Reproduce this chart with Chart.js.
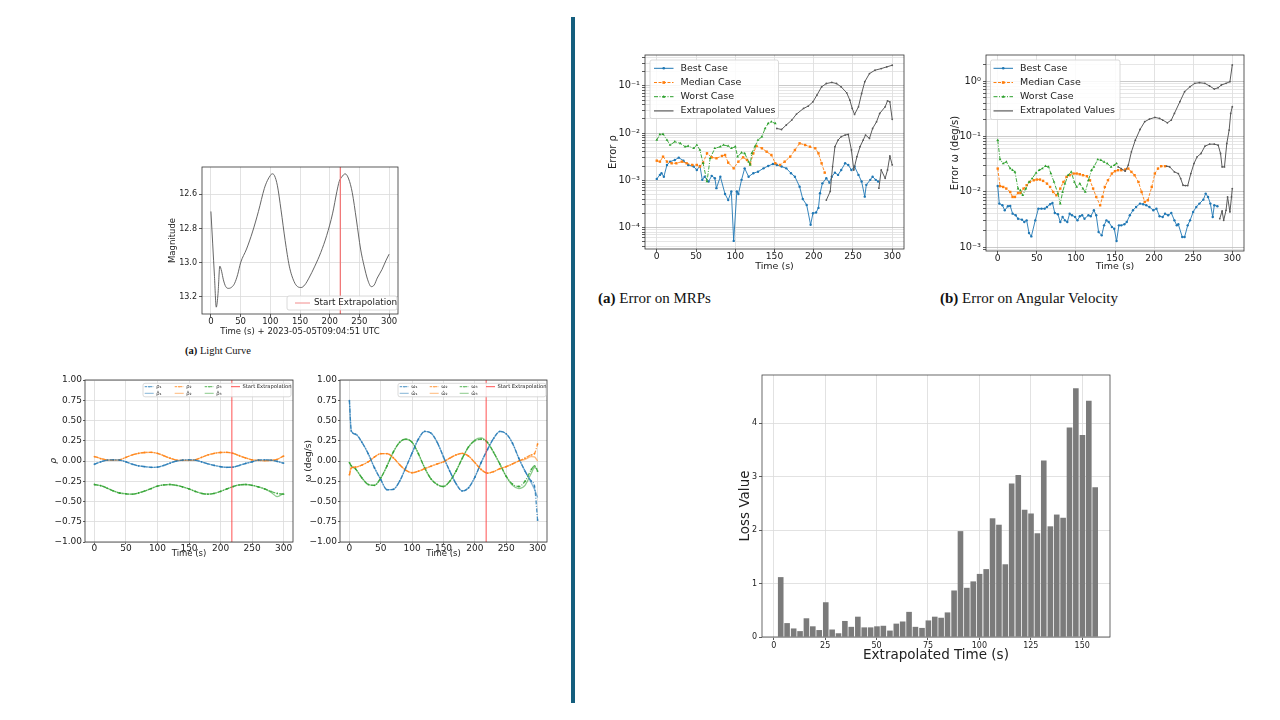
<!DOCTYPE html>
<html lang="en">
<head>
<meta charset="utf-8">
<title>Attitude estimation results</title>
<script src="https://cdn.jsdelivr.net/npm/chart.js@4.4.1/dist/chart.umd.min.js"></script>
<style>
  body { margin:0; width:1280px; height:720px; background:#fff; position:relative; overflow:hidden; font-family:'DejaVu Sans', sans-serif; }
  canvas { position:absolute; }
  .cap { position:absolute; font-family:'Liberation Serif', serif; color:#111; white-space:nowrap; }
  #divider { position:absolute; left:571px; top:17px; width:4px; height:686px; background:#155e7e; }
</style>
</head>
<body>
<div id="divider"></div>
<div class="cap" style="left:185px;top:345px;font-size:10.5px;line-height:12px"><b>(a)</b> Light Curve</div>
<div class="cap" style="left:598px;top:289px;font-size:15px;line-height:18px"><b>(a)</b> Error on MRPs</div>
<div class="cap" style="left:940px;top:289px;font-size:15px;line-height:18px"><b>(b)</b> Error on Angular Velocity</div>

<script>
// ---- data ----
const startExtrap = 218;

// light curve
const lcTime = [0,3,6,9,12,15,18,21,25,30,36,40,45,50,60,70,80,90,95,100,103,107,112,118,125,132,140,146,152,158,165,175,185,195,205,212,216,220,226,232,238,245,252,258,264,270,275,280,288,295,300];
const lcMag = [12.70,12.89,13.08,13.26,13.18,13.02,13.05,13.10,13.14,13.15,13.14,13.12,13.07,13.00,12.92,12.82,12.70,12.565,12.52,12.49,12.48,12.49,12.55,12.69,12.87,13.02,13.11,13.14,13.145,13.13,13.09,13.02,12.94,12.84,12.71,12.585,12.525,12.50,12.48,12.51,12.59,12.75,12.92,13.02,13.10,13.14,13.13,13.09,13.04,12.985,12.95];

// MRPs (truth and estimate)
const mrpTime = [0,10,20,30,40,50,60,70,80,90,100,110,120,130,140,150,160,170,180,190,200,210,220,230,240,250,260,270,280,290,300];
const rho1 = [-0.04,-0.01,0.01,0.015,0.01,-0.01,-0.04,-0.06,-0.07,-0.078,-0.075,-0.055,-0.025,0,0.012,0.015,0.01,-0.01,-0.035,-0.055,-0.07,-0.078,-0.075,-0.055,-0.03,-0.01,0.012,0.015,0.01,-0.005,-0.025];
const rho2 = [0.055,0.03,0.012,0.01,0.015,0.045,0.075,0.095,0.105,0.107,0.095,0.065,0.035,0.012,0.008,0.008,0.015,0.045,0.075,0.095,0.105,0.107,0.095,0.065,0.037,0.015,0.008,0.004,0.008,0.02,0.06];
const rho3 = [-0.29,-0.305,-0.335,-0.37,-0.395,-0.405,-0.41,-0.395,-0.37,-0.34,-0.31,-0.295,-0.29,-0.3,-0.32,-0.345,-0.375,-0.4,-0.41,-0.4,-0.375,-0.345,-0.315,-0.295,-0.29,-0.3,-0.32,-0.345,-0.375,-0.4,-0.41];
const rho1Hat = [-0.04,-0.01,0.01,0.015,0.01,-0.01,-0.04,-0.06,-0.07,-0.078,-0.075,-0.055,-0.025,0,0.012,0.015,0.01,-0.01,-0.035,-0.055,-0.07,-0.078,-0.075,-0.055,-0.03,-0.01,0.012,0.015,0.01,-0.005,-0.03];
const rho2Hat = [0.055,0.03,0.012,0.01,0.015,0.045,0.075,0.095,0.105,0.107,0.095,0.065,0.035,0.012,0.008,0.008,0.015,0.045,0.075,0.095,0.105,0.107,0.095,0.065,0.037,0.015,0.008,0.004,0.008,0.02,0.065];
const rho3Hat = [-0.29,-0.305,-0.335,-0.37,-0.395,-0.405,-0.41,-0.395,-0.37,-0.34,-0.31,-0.295,-0.29,-0.3,-0.32,-0.345,-0.375,-0.4,-0.41,-0.4,-0.375,-0.345,-0.315,-0.295,-0.29,-0.3,-0.32,-0.345,-0.385,-0.44,-0.40];

// angular velocity (truth and estimate), deg/s
const rateTime = [0,3,10,20,30,40,50,60,70,80,90,100,110,120,130,140,150,160,170,180,190,200,210,220,230,240,250,260,270,280,290,295,300];
const w1 = [0.745,0.37,0.33,0.23,0.09,-0.085,-0.23,-0.355,-0.35,-0.25,-0.08,0.1,0.27,0.365,0.345,0.23,0.05,-0.125,-0.28,-0.37,-0.33,-0.2,-0.02,0.14,0.28,0.365,0.335,0.22,0.035,-0.125,-0.25,-0.31,-0.73];
const w2 = [-0.17,-0.085,-0.075,-0.05,-0.01,0.05,0.09,0.09,0.04,-0.045,-0.115,-0.145,-0.125,-0.095,-0.065,-0.035,-0.01,0.035,0.075,0.095,0.06,-0.02,-0.105,-0.15,-0.13,-0.095,-0.07,-0.035,0,0.035,0.075,0.09,0.21];
const w3 = [-0.02,-0.06,-0.1,-0.21,-0.29,-0.30,-0.21,-0.06,0.11,0.23,0.27,0.23,0.09,-0.085,-0.22,-0.29,-0.315,-0.25,-0.125,0.035,0.175,0.25,0.27,0.23,0.105,-0.04,-0.19,-0.285,-0.315,-0.25,-0.105,-0.06,-0.125];
const w1Hat = [0.745,0.37,0.33,0.23,0.09,-0.085,-0.23,-0.355,-0.35,-0.25,-0.08,0.1,0.27,0.365,0.345,0.23,0.05,-0.125,-0.28,-0.37,-0.33,-0.2,-0.02,0.14,0.28,0.365,0.335,0.22,0.035,-0.125,-0.27,-0.35,-0.45];
const w2Hat = [-0.17,-0.085,-0.075,-0.05,-0.01,0.05,0.09,0.09,0.04,-0.045,-0.115,-0.145,-0.125,-0.095,-0.065,-0.035,-0.01,0.035,0.075,0.095,0.06,-0.02,-0.105,-0.15,-0.13,-0.095,-0.07,-0.035,0,0.02,0.055,0.05,0.0];
const w3Hat = [-0.02,-0.06,-0.1,-0.21,-0.29,-0.30,-0.21,-0.06,0.11,0.23,0.27,0.23,0.09,-0.085,-0.22,-0.29,-0.315,-0.25,-0.125,0.035,0.175,0.26,0.285,0.23,0.105,-0.04,-0.19,-0.3,-0.34,-0.3,-0.15,-0.08,-0.1];

// error on MRPs
const errMrpBestT = [0,4,6,9,13,17,23,28,34,40,47,51,55,58,61,66,70,74,76,81,87,91,95,98,102,104,108,112,117,123,129,136,142,148,153,159,165,171,176,182,186,191,196,199,203,206,208,211,216,220,223,227,231,235,240,244,248,252,257,261,265,267,272,275,279,282];
const errMrpBest = [1.07e-3,1.30e-3,1.41e-3,1.19e-3,2.11e-3,2.48e-3,2.69e-3,3.01e-3,2.60e-3,2.11e-3,1.95e-3,1.65e-3,2.01e-3,1.02e-3,1.19e-3,9.4e-4,1.24e-3,1.10e-3,6.8e-4,1.19e-3,5.1e-4,3.8e-4,5.8e-4,5.2e-5,5.8e-4,5.1e-4,1.02e-3,1.79e-3,1.19e-3,1.41e-3,1.52e-3,1.79e-3,2.01e-3,2.21e-3,2.11e-3,1.95e-3,1.79e-3,1.41e-3,1.19e-3,7.3e-4,4.0e-4,3.0e-4,1.14e-4,2.0e-4,2.07e-4,2.6e-4,5.3e-4,8.6e-4,1.10e-3,8.9e-4,1.19e-3,1.45e-3,1.30e-3,1.65e-3,2.29e-3,2.11e-3,1.65e-3,1.95e-3,1.30e-3,9.4e-4,4.5e-4,8.0e-4,1.02e-3,1.19e-3,1.02e-3,9.4e-4];
const errMrpMedT = [0,4,8,13,19,25,32,38,45,51,55,59,64,70,76,83,87,91,98,104,110,115,119,123,127,134,140,146,151,157,163,170,176,182,189,195,202,206,210,214];
const errMrpMed = [2.60e-3,2.48e-3,3.16e-3,2.48e-3,2.29e-3,2.29e-3,2.48e-3,2.29e-3,2.11e-3,2.11e-3,1.95e-3,2.36e-3,3.72e-3,3.06e-3,2.92e-3,3.27e-3,3.43e-3,2.36e-3,1.79e-3,2.48e-3,3.06e-3,2.69e-3,2.21e-3,3.72e-3,5.31e-3,4.75e-3,4.03e-3,3.43e-3,2.29e-3,2.11e-3,2.48e-3,3.16e-3,4.37e-3,6.05e-3,5.58e-3,5.14e-3,4.75e-3,3.72e-3,2.29e-3,1.45e-3];
const errMrpWorstT = [0,4,8,13,17,23,30,36,40,47,51,55,59,64,68,74,81,85,91,95,100,103,108,112,117,119,121,125,129,134,138,142,146,151];
const errMrpWorst = [7.11e-3,9.37e-3,9.5e-3,7.11e-3,5.58e-3,6.56e-3,6.05e-3,5.14e-3,5.31e-3,4.75e-3,5.58e-3,4.37e-3,2.29e-3,9.4e-4,2.92e-3,4.75e-3,5.14e-3,5.58e-3,5.31e-3,4.75e-3,5.14e-3,3.16e-3,3.84e-3,3.72e-3,2.48e-3,2.11e-3,3.72e-3,5.14e-3,7.11e-3,8.37e-3,1.25e-2,1.60e-2,1.73e-2,1.60e-2];
const mrpExtA_T = [153,159,165,172,178,187,193,199,204,210,216,223,229,235,242,246,249,252,257,261,265,271,278,286,293,300];
const mrpExtA = [1.25e-2,1.19e-2,1.48e-2,1.88e-2,2.52e-2,3.32e-2,3.72e-2,4.59e-2,6.35e-2,9.5e-2,0.112,0.118,0.112,9.5e-2,7.11e-2,4.98e-2,3.32e-2,2.48e-2,3.6e-2,6.89e-2,0.122,0.182,0.214,0.232,0.252,0.273];
const mrpExtB_T = [216,221,224,227,231,235,240,244,248,251,255,259,263,266,271,275,280,284,291,294,297,300];
const mrpExtB = [3.8e-4,5.8e-4,1.95e-3,5.14e-3,7.11e-3,8.37e-3,9.08e-3,9.37e-3,4.37e-3,1.65e-3,3.16e-3,5.14e-3,7.11e-3,9.08e-3,7.71e-3,1.25e-2,1.73e-2,2.6e-2,3.6e-2,4.82e-2,4.59e-2,1.95e-2];
const mrpExtC_T = [283,286,291,294,297,300];
const mrpExtC = [6.8e-4,1.65e-3,1.10e-3,1.65e-3,3.27e-3,2.11e-3];

// error on angular velocity, deg/s
const errRateBestT = [0,2,6,9,13,16,19,23,26,31,34,37,40,43,48,52,56,60,63,67,70,73,77,80,83,86,89,92,95,99,102,105,108,111,116,119,123,126,129,133,136,139,142,146,149,152,155,158,162,165,169,173,177,182,186,190,194,199,203,207,211,214,218,222,226,229,231,236,239,243,246,250,254,258,263,266,269,272,275,277,281];
const errRateBest = [1.27e-2,6.1e-3,5.69e-3,4.62e-3,5.46e-3,5.53e-3,4.02e-3,3.75e-3,3.26e-3,3.13e-3,2.84e-3,3.04e-3,1.8e-3,1.56e-3,3.04e-3,4.95e-3,4.95e-3,4.95e-3,5.31e-3,5.93e-3,6.27e-3,4.13e-3,3.91e-3,2.84e-3,3.5e-3,3.04e-3,2.84e-3,4.02e-3,3.75e-3,3.5e-3,3.04e-3,3.6e-3,3.75e-3,3.26e-3,3.75e-3,3.6e-3,4.62e-3,3.75e-3,1.87e-3,1.63e-3,2.47e-3,3.04e-3,2.84e-3,2.31e-3,2.15e-3,1.29e-3,2.47e-3,2.47e-3,2.58e-3,2.84e-3,3.75e-3,4.62e-3,5.31e-3,6.1e-3,5.93e-3,5.69e-3,5.31e-3,4.62e-3,4.95e-3,3.6e-3,3.5e-3,4.02e-3,3.75e-3,4.13e-3,3.04e-3,2.47e-3,2.58e-3,1.52e-3,1.52e-3,2.47e-3,3.04e-3,4.31e-3,5.31e-3,6.1e-3,7.2e-3,9.25e-3,8.05e-3,6.1e-3,3.5e-3,5.69e-3,5.46e-3];
const errRateMedT = [0,3,7,11,16,19,22,26,29,33,37,41,46,50,54,58,63,67,71,75,80,84,88,92,97,101,105,109,114,118,122,126,131,134,137,141,146,150,154,158,163,167,171,175,180,184,188,192,197,201,205,209,214];
const errRateMed = [2.62e-2,1.26e-2,1.22e-2,1.14e-2,9.9e-3,8.05e-3,8.05e-3,9.5e-3,9.5e-3,1.14e-2,1.31e-2,1.5e-2,1.61e-2,1.66e-2,1.66e-2,1.57e-2,1.4e-2,1.22e-2,9.9e-3,8.63e-3,1.14e-2,1.5e-2,1.85e-2,1.99e-2,2.13e-2,2.13e-2,2.07e-2,1.99e-2,1.91e-2,1.61e-2,1.14e-2,8.05e-3,5.69e-3,8.05e-3,1.22e-2,1.61e-2,2.13e-2,2.35e-2,2.45e-2,2.45e-2,2.52e-2,2.62e-2,2.28e-2,1.99e-2,1.5e-2,9.9e-3,6.54e-3,7.01e-3,1.22e-2,2.13e-2,2.62e-2,2.89e-2,2.89e-2];
const errRateWorstT = [0,3,7,11,16,19,22,26,29,32,36,40,44,49,53,57,61,65,68,72,77,80,83,86,90,94,98,101,105,109,112,116,120,123,128,132,136,140,145,149,152];
const errRateWorst = [8.55e-2,3.82e-2,3.23e-2,3.46e-2,2.62e-2,2.45e-2,2.28e-2,1.14e-2,1.06e-2,8.63e-3,1.14e-2,1.5e-2,1.73e-2,2.19e-2,2.45e-2,2.62e-2,2.89e-2,2.81e-2,2.13e-2,1.5e-2,9.25e-3,6.1e-3,9.9e-3,1.4e-2,1.99e-2,2.28e-2,1.5e-2,1.22e-2,1.4e-2,1.14e-2,9.9e-3,1.61e-2,2.45e-2,2.81e-2,3.82e-2,3.71e-2,3.46e-2,3.23e-2,2.81e-2,3.01e-2,3.23e-2];
const rateExtA_T = [154,158,163,167,171,176,182,188,194,201,207,211,217,222,226,233,239,246,252,258,265,271,277,282,286,292,297,300];
const rateExtA = [2.81e-2,2.62e-2,2.35e-2,3.01e-2,5.26e-2,8.55e-2,0.133,0.184,0.205,0.22,0.211,0.197,0.176,0.197,0.26,0.423,0.641,0.79,0.907,0.933,0.907,0.812,0.716,0.757,0.847,0.907,0.973,1.95];
const rateExtB_T = [216,220,226,231,234,237,240,243,247,251,255,260,265,271,277,282,285,287,290,293,296,298,300];
const rateExtB = [2.89e-2,2.81e-2,2.28e-2,2.13e-2,1.73e-2,1.31e-2,1.29e-2,1.29e-2,2.13e-2,3.23e-2,4.27e-2,4.9e-2,6.66e-2,7.23e-2,7.23e-2,6.94e-2,4.9e-2,2.81e-2,2.81e-2,7.44e-2,0.13,0.26,0.343];
const rateExtC_T = [284,287,289,292,294,297,299,300];
const rateExtC = [3.26e-3,4.49e-3,3.04e-3,4.62e-3,8.05e-3,4.31e-3,8.05e-3,1.14e-2];

// loss per extrapolated time step
const lossTime = [3.4,6.5,9.7,12.8,15.9,19.0,22.1,25.3,28.4,31.5,34.6,37.7,40.9,44.0,47.1,50.2,53.3,56.5,59.6,62.7,65.8,68.9,72.1,75.2,78.3,81.4,84.5,87.7,90.8,93.9,97.0,100.1,103.3,106.4,109.5,112.6,115.7,118.9,122.0,125.1,128.2,131.3,134.5,137.6,140.7,143.8,146.9,150.1,153.2,156.3];
const lossValue = [1.12,0.26,0.16,0.11,0.35,0.2,0.13,0.65,0.14,0.07,0.3,0.19,0.38,0.18,0.18,0.2,0.21,0.12,0.25,0.29,0.47,0.19,0.17,0.31,0.38,0.36,0.46,0.87,1.98,0.92,1.04,1.18,1.27,2.22,2.1,1.36,2.87,3.03,2.38,2.31,1.94,3.3,2.07,2.29,2.23,3.92,4.65,3.78,4.42,2.8];

// tick labels
const timeTicks = [0,50,100,150,200,250,300];
const magTicks = [12.6,12.8,13.0,13.2];
const unitTicks = [-1,-0.75,-0.5,-0.25,0,0.25,0.5,0.75,1];
const lossTimeTicks = [0,25,50,75,100,125,150];
const lossTicks = [0,1,2,3,4];

// ---- helpers ----
Chart.defaults.font.family = "'DejaVu Sans', sans-serif";
Chart.defaults.color = '#222';

const zip = (t, v) => t.map((x, i) => ({x: x, y: v[i]}));
const SUP = {'-': '⁻', '0': '⁰', '1': '¹', '2': '²', '3': '³', '4': '⁴', '5': '⁵', '6': '⁶', '7': '⁷', '8': '⁸', '9': '⁹'};
const isPow10 = v => Math.abs(Math.log10(v) - Math.round(Math.log10(v))) < 1e-9;
const powLabel = v => isPow10(v) ? '10' + String(Math.round(Math.log10(v))).split('').map(c => SUP[c]).join('') : '';
const signed2 = v => (v < 0 ? '−' : '') + Math.abs(v).toFixed(2);

function logTicks(lo, hi) {
  const out = [];
  for (let e = Math.floor(Math.log10(lo)); e <= Math.ceil(Math.log10(hi)); e++) {
    for (let m = 1; m < 10; m++) {
      const v = parseFloat((m * Math.pow(10, e)).toPrecision(6));
      if (v >= lo && v <= hi) out.push(v);
    }
  }
  return out;
}

// area = [left, top, right, bottom] of the plot box on the page
function place(area, yw, xh, pt, pr) {
  const c = document.createElement('canvas');
  c.width = Math.round(area[2] - area[0] + yw + pr);
  c.height = Math.round(area[3] - area[1] + xh + pt);
  c.style.left = (area[0] - yw) + 'px';
  c.style.top = (area[1] - pt) + 'px';
  document.body.appendChild(c);
  return c;
}

function axis(o) {
  const lh = o.lh || 1.2;
  const gridColor = o.log ? (c => (c.tick && isPow10(c.tick.value)) ? '#bdbdbd' : '#e0e0e0') : '#dadada';
  return {
    type: o.log ? 'logarithmic' : 'linear',
    min: o.min, max: o.max, reverse: !!o.reverse, bounds: 'data', offset: false,
    afterBuildTicks: s => { s.ticks = o.ticks.map(v => ({value: v})); },
    afterFit: s => { if (o.w) s.width = o.w; if (o.h) s.height = o.h; },
    grid: {color: gridColor, lineWidth: 0.8, offset: false, drawTicks: true, tickLength: o.tl ?? 3, tickColor: '#333', tickWidth: 0.8},
    border: {display: false},
    ticks: {font: {size: o.fs, lineHeight: o.tlh || lh}, color: '#222', padding: o.pad ?? 1, autoSkip: false, maxRotation: 0,
            callback: o.fmt || (v => String(v))},
    title: {display: true, text: o.title, color: '#222', padding: 0,
            font: {size: o.tfs, lineHeight: lh, style: o.italic ? 'italic' : 'normal'}}
  };
}

function opts(pt, pr, x, y) {
  return {
    responsive: false, animation: false, events: [],
    layout: {padding: {top: pt, right: pr, left: 0, bottom: 0}},
    plugins: {legend: {display: false}, tooltip: {enabled: false}},
    scales: {x: x, y: y}
  };
}

function drawMarker(ctx, style, x, y, r, color) {
  ctx.fillStyle = color;
  ctx.beginPath();
  if (style === 'rect') ctx.rect(x - r * 0.75, y - r * 0.75, r * 1.5, r * 1.5);
  else if (style === 'triangle') { ctx.moveTo(x, y - r); ctx.lineTo(x + r * 0.9, y + r * 0.6); ctx.lineTo(x - r * 0.9, y + r * 0.6); ctx.closePath(); }
  else ctx.arc(x, y, r, 0, Math.PI * 2);
  ctx.fill();
}

// axes box + matplotlib style legend drawn inside the plot area
function frame(L, edge) {
  return {
    id: 'frame',
    afterDatasetsDraw(chart) {
      const ctx = chart.ctx, a = chart.chartArea;
      ctx.save();
      ctx.strokeStyle = edge || '#333';
      ctx.lineWidth = 0.8;
      ctx.strokeRect(a.left, a.top, a.right - a.left, a.bottom - a.top);
      if (L) {
        const bx = a.left + L.x, by = a.top + L.y;
        ctx.fillStyle = 'rgba(255,255,255,0.85)';
        ctx.strokeStyle = '#d0d0d0';
        ctx.beginPath();
        if (ctx.roundRect) ctx.roundRect(bx, by, L.w, L.h, 2); else ctx.rect(bx, by, L.w, L.h);
        ctx.fill(); ctx.stroke();
        ctx.font = L.font;
        ctx.textBaseline = 'middle';
        ctx.textAlign = 'left';
        L.items.forEach((it, i) => {
          const col = i % L.cols, row = Math.floor(i / L.cols);
          const sx = bx + L.colX[col], sy = by + L.rowY + row * L.rowH;
          ctx.strokeStyle = it.color;
          ctx.lineWidth = it.lw;
          ctx.setLineDash(it.dash || []);
          ctx.beginPath(); ctx.moveTo(sx, sy); ctx.lineTo(sx + L.sample, sy); ctx.stroke();
          ctx.setLineDash([]);
          if (it.marker) drawMarker(ctx, it.marker, sx + L.sample / 2, sy, it.ms, it.color);
          ctx.fillStyle = '#222';
          ctx.fillText(it.text, sx + L.sample + L.gap, sy);
        });
      }
      ctx.restore();
    }
  };
}

const BLUE = '#1f77b4', ORANGE = '#ff7f0e', GREEN = '#2ca02c', GRAY = '#5a5a5a';
const tBlue = 'rgba(31,119,180,0.8)', tOrange = 'rgba(255,127,14,0.8)', tGreen = 'rgba(44,160,44,0.8)';
const hBlue = 'rgba(31,119,180,0.55)', hOrange = 'rgba(255,127,14,0.55)', hGreen = 'rgba(44,160,44,0.55)';
const DASHDOT = [4, 1.5, 1, 1.5];

// ---- light curve ----
new Chart(place([202,167,398,314], 34, 23, 8, 12), {
  type: 'line',
  data: {datasets: [
    {data: [{x: startExtrap, y: 12.44}, {x: startExtrap, y: 13.30}], borderColor: 'rgba(240,120,120,0.85)', borderWidth: 1, pointRadius: 0},
    {data: zip(lcTime, lcMag), borderColor: '#555', borderWidth: 0.9, pointRadius: 0, cubicInterpolationMode: 'monotone'}
  ]},
  options: opts(8, 12,
    axis({min: -15, max: 315, ticks: timeTicks, title: 'Time (s) + 2023-05-05T09:04:51 UTC', fs: 8.5, tfs: 8.5, h: 23, pad: 0}),
    axis({min: 12.44, max: 13.30, reverse: true, ticks: magTicks, fmt: v => v.toFixed(1), title: 'Magnitude', fs: 8, tfs: 8.5, w: 34, pad: 2})),
  plugins: [frame({x: 85, y: 129, w: 110, h: 14, cols: 1, colX: [8], rowY: 7, rowH: 14, sample: 15, gap: 4, font: '8.8px "DejaVu Sans"',
    items: [{text: 'Start Extrapolation', color: 'rgba(240,120,120,0.85)', lw: 1}]})]
});

// ---- MRPs and angular velocity ----
function statePlot(area, tt, truth, est, yTitle, italic, names, hats) {
  const cols = [[tBlue, hBlue], [tOrange, hOrange], [tGreen, hGreen]];
  const ds = [{data: [{x: startExtrap, y: -1}, {x: startExtrap, y: 1}], borderColor: 'rgba(255,50,50,0.85)', borderWidth: 1, pointRadius: 0}];
  truth.forEach((v, i) => ds.push({data: zip(tt, v), borderColor: cols[i][0], borderWidth: 1.3, borderDash: DASHDOT,
    pointRadius: 0.9, pointBorderWidth: 0, pointBackgroundColor: cols[i][0], cubicInterpolationMode: 'monotone'}));
  est.forEach((v, i) => ds.push({data: zip(tt, v), borderColor: cols[i][1], borderWidth: 1.3, pointRadius: 0, cubicInterpolationMode: 'monotone'}));
  const items = names.map((n, i) => ({text: n, color: cols[i][0], lw: 1, dash: [2.5, 1, 0.7, 1], marker: 'circle', ms: 0.8}));
  items.push({text: 'Start Extrapolation', color: 'rgba(255,50,50,0.85)', lw: 1});
  hats.forEach((n, i) => items.push({text: n, color: cols[i][1], lw: 1}));
  new Chart(place(area, 37, 16, 8, 10), {
    type: 'line',
    data: {datasets: ds},
    options: opts(8, 10,
      axis({min: -15, max: 315, ticks: timeTicks, title: 'Time (s)', fs: 9, tfs: 8.5, h: 16, tl: 2, pad: 0, lh: 1.0}),
      axis({min: -1, max: 1, ticks: unitTicks, fmt: signed2, title: yTitle, italic: italic, fs: 9, tfs: 9, w: 37, tl: 2, pad: 1})),
    plugins: [frame({x: 58, y: 3.3, w: 148, h: 13.5, cols: 4, colX: [1.7, 31.7, 61.7, 88], rowY: 3.4, rowH: 6.6,
      sample: 9, gap: 2.5, font: '5.2px "DejaVu Sans"', items: items})]
  });
}
statePlot([85,380,293,542], mrpTime, [rho1, rho2, rho3], [rho1Hat, rho2Hat, rho3Hat], 'ρ', true,
  ['ρ₁', 'ρ₂', 'ρ₃'], ['ρ̂₁', 'ρ̂₂', 'ρ̂₃']);
statePlot([340,380,547,542], rateTime, [w1, w2, w3], [w1Hat, w2Hat, w3Hat], 'ω (deg/s)', false,
  ['ω₁', 'ω₂', 'ω₃'], ['ω̂₁', 'ω̂₂', 'ω̂₃']);

// ---- error plots ----
const bestStyle = {borderColor: BLUE, borderWidth: 0.9, pointRadius: 1.2, pointStyle: 'circle', pointBorderWidth: 0, pointBackgroundColor: BLUE};
const medStyle = {borderColor: ORANGE, borderWidth: 0.9, borderDash: [3, 1.5], pointRadius: 1.7, pointStyle: 'rect', pointBorderWidth: 0, pointBackgroundColor: ORANGE};
const worstStyle = {borderColor: GREEN, borderWidth: 0.9, borderDash: DASHDOT, pointRadius: 1.6, pointStyle: 'triangle', pointBorderWidth: 0, pointBackgroundColor: GREEN};
const extStyle = {borderColor: GRAY, borderWidth: 1, pointRadius: 0.9, pointStyle: 'circle', pointBorderWidth: 0, pointBackgroundColor: GRAY};
const errItems = [
  {text: 'Best Case', color: BLUE, lw: 1, marker: 'circle', ms: 1.3},
  {text: 'Median Case', color: ORANGE, lw: 1, dash: [3, 1.5], marker: 'rect', ms: 1.8},
  {text: 'Worst Case', color: GREEN, lw: 1, dash: DASHDOT, marker: 'triangle', ms: 1.7},
  {text: 'Extrapolated Values', color: GRAY, lw: 1.2}
];

function errPlot(area, yw, xh, lo, hi, sets, yTitle, leg) {
  const ds = sets.ext.map(e => Object.assign({data: zip(e[0], e[1])}, extStyle));
  ds.push(Object.assign({data: zip(sets.worst[0], sets.worst[1])}, worstStyle));
  ds.push(Object.assign({data: zip(sets.med[0], sets.med[1])}, medStyle));
  ds.push(Object.assign({data: zip(sets.best[0], sets.best[1])}, bestStyle));
  new Chart(place(area, yw, xh, 8, 10), {
    type: 'line',
    data: {datasets: ds},
    options: opts(8, 10,
      axis({min: -15, max: 315, ticks: timeTicks, title: 'Time (s)', fs: 9.2, tfs: 9.5, h: xh, tl: 3, pad: 0, tlh: 1.0}),
      axis({log: true, min: lo, max: hi, ticks: logTicks(lo, hi), fmt: powLabel, title: yTitle, fs: 9.8, tfs: 10, w: yw, tl: 3, pad: 2})),
    plugins: [frame(Object.assign({cols: 1, rowY: 8.3, rowH: 14.2, sample: 19.5, gap: 7, font: '9.5px "DejaVu Sans"', items: errItems}, leg))]
  });
}

errPlot([645,55,904,249], 38, 23, 3.5e-5, 0.45,
  {best: [errMrpBestT, errMrpBest], med: [errMrpMedT, errMrpMed], worst: [errMrpWorstT, errMrpWorst],
   ext: [[mrpExtA_T, mrpExtA], [mrpExtB_T, mrpExtB], [mrpExtC_T, mrpExtC]]},
  'Error ρ', {x: 5, y: 5, w: 128.5, h: 58.5, colX: [4]});

errPlot([986,55,1244,251], 37, 21, 8.5e-4, 2.95,
  {best: [errRateBestT, errRateBest], med: [errRateMedT, errRateMed], worst: [errRateWorstT, errRateWorst],
   ext: [[rateExtA_T, rateExtA], [rateExtB_T, rateExtB], [rateExtC_T, rateExtC]]},
  'Error ω (deg/s)', {x: 4.5, y: 5, w: 129.5, h: 59.5, colX: [3]});

// ---- loss bars ----
new Chart(place([762,375,1110,637], 25, 27, 8, 12), {
  type: 'bar',
  data: {datasets: [{data: zip(lossTime, lossValue), backgroundColor: '#7b7b7b', borderWidth: 0,
    barPercentage: 0.88, categoryPercentage: 1.0}]},
  options: opts(8, 12,
    axis({min: -5.7, max: 163.5, ticks: lossTimeTicks, title: 'Extrapolated Time (s)', fs: 8, tfs: 13.5, h: 27, tl: 3, pad: 1}),
    axis({min: 0, max: 4.9, ticks: lossTicks, title: 'Loss Value', fs: 8, tfs: 13.5, w: 25, tl: 3, pad: 2})),
  plugins: [frame(null, '#444')]
});
</script>
</body>
</html>
